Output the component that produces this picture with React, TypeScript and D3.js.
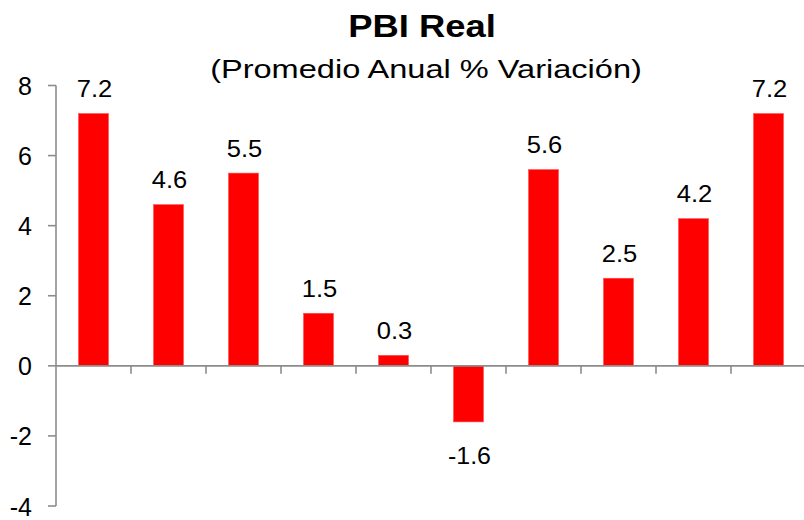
import React from "react";
import * as d3 from "d3";

const categories = ["1", "2", "3", "4", "5", "6", "7", "8", "9", "10"];
const values = [7.2, 4.6, 5.5, 1.5, 0.3, -1.6, 5.6, 2.5, 4.2, 7.2];
const yTicks = [-4, -2, 0, 2, 4, 6, 8];
const title = "PBI Real";
const subtitle = "(Promedio Anual % Variación)";

const W = 804;
const H = 520;
const FONT = "'Liberation Sans', Arial, sans-serif";

export default function App() {
  const x = d3.scaleBand<string>().domain(categories).range([56, 806]).paddingInner(0.6).paddingOuter(0.3);
  const y = d3.scaleLinear().domain([-4, 8]).range([506, 85.5]);
  const step = x.step();
  const x0 = 56;
  const axisColor = "#8c8c8c";
  const fmt = d3.format(".1f");

  return (
    <svg width={W} height={H} style={{ position: "absolute", left: 0, top: 0, background: "#fff" }} fontFamily={FONT}>
      <text x={422} y={37.3} textAnchor="middle" fontSize={31} fontWeight="bold" fill="#000" textLength={147.7} lengthAdjust="spacingAndGlyphs">{title}</text>
      <text x={426} y={78.3} textAnchor="middle" fontSize={25.5} fill="#000" textLength={431.7} lengthAdjust="spacingAndGlyphs">{subtitle}</text>

      {/* y axis */}
      <line x1={x0} x2={x0} y1={y(8)} y2={y(-4)} stroke={axisColor} strokeWidth={1.6} />
      {yTicks.map((t) => (
        <g key={t}>
          <line x1={48} x2={x0} y1={y(t)} y2={y(t)} stroke={axisColor} strokeWidth={1.6} />
          <text x={32} y={y(t) + 9.5} textAnchor="end" fontSize={25} fill="#000">{t}</text>
        </g>
      ))}

      {/* bars */}
      {values.map((v, i) => {
        const cx = x(categories[i])!;
        const top = Math.min(y(v), y(0));
        const h = Math.abs(y(v) - y(0));
        return (
          <g key={i}>
            <rect x={cx} y={top} width={x.bandwidth()} height={h} fill="#ff0000" stroke="#ff5050" strokeWidth={0.6} />
            <text
              x={cx + x.bandwidth() / 2 + 1}
              y={v >= 0 ? y(v) - 16.5 : y(v) + 42}
              textAnchor="middle"
              fontSize={24}
              fill="#000"
              textLength={fmt(Math.abs(v)).length * 0 + (v < 0 ? 43 : 35.5)}
              lengthAdjust="spacingAndGlyphs"
            >
              {v < 0 ? "-" + fmt(-v) : fmt(v)}
            </text>
          </g>
        );
      })}

      {/* x axis */}
      <line x1={x0} x2={W} y1={y(0)} y2={y(0)} stroke={axisColor} strokeWidth={1.6} />
      {categories.map((c, i) => (
        <line key={c} x1={x0 + (i + 1) * step} x2={x0 + (i + 1) * step} y1={y(0)} y2={y(0) + 8} stroke={axisColor} strokeWidth={1.6} />
      ))}
    </svg>
  );
}
